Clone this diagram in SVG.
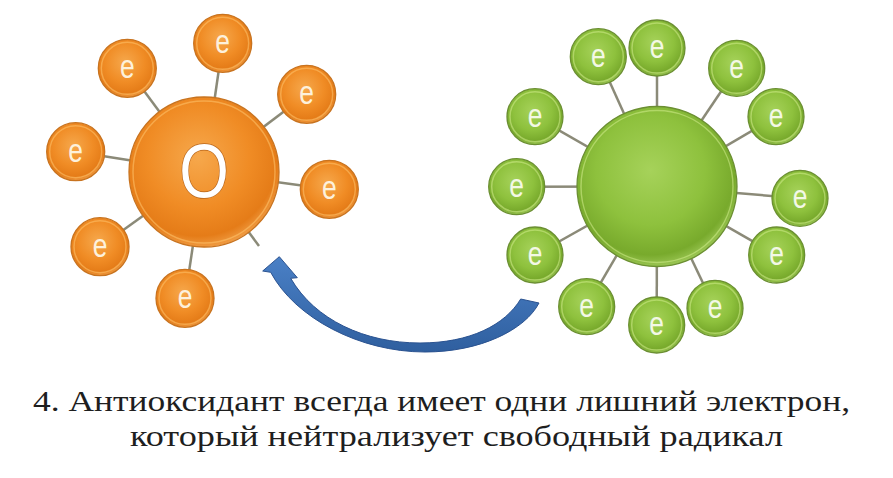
<svg xmlns="http://www.w3.org/2000/svg" width="893" height="478" viewBox="0 0 893 478">
<defs>
<radialGradient id="gOr" cx="46%" cy="40%" r="62%">
<stop offset="0" stop-color="#f6a84c"/>
<stop offset="0.55" stop-color="#f08c25"/>
<stop offset="0.85" stop-color="#e57c18"/>
<stop offset="1" stop-color="#f2a14a"/>
</radialGradient>
<radialGradient id="gGr" cx="46%" cy="40%" r="62%">
<stop offset="0" stop-color="#a6d25a"/>
<stop offset="0.55" stop-color="#8ec13d"/>
<stop offset="0.85" stop-color="#78aa2c"/>
<stop offset="1" stop-color="#a2cc5c"/>
</radialGradient>
<linearGradient id="gArrow" x1="0" y1="0" x2="0" y2="1">
<stop offset="0" stop-color="#4a80c6"/>
<stop offset="1" stop-color="#2f5f9f"/>
</linearGradient>
<style>
.link{stroke:#8b8a78;stroke-width:2.5;fill:none}
.orange{fill:url(#gOr);stroke:#c8731f;stroke-width:1.3}
.green{fill:url(#gGr);stroke:#6b8f32;stroke-width:1.3}
.ringO{fill:none;stroke:#ffc46e;stroke-opacity:0.55;stroke-width:1.5}
.ringG{fill:none;stroke:#d2ec8c;stroke-opacity:0.55;stroke-width:1.5}
.et{font-family:"Liberation Sans",Arial,sans-serif;font-size:33px;text-anchor:middle}
.etO{fill:#fdf1dc}
.etG{fill:#f3f8e6}
.big{font-family:"Liberation Sans",Arial,sans-serif;font-size:76px;text-anchor:middle;fill:#ffffff;stroke:#b8651a;stroke-width:1.5;paint-order:stroke}
.cap{font-family:"Liberation Serif","Times New Roman",serif;font-size:29px;fill:#1e1e1e}
.arrow{fill:url(#gArrow);stroke:#2a5290;stroke-width:1}
</style>
</defs>
<rect width="893" height="478" fill="#ffffff"/>

<g id="connectors">
<line class="link" x1="204" y1="172" x2="127.3" y2="68.3"/>
<line class="link" x1="204" y1="172" x2="222.7" y2="43.3"/>
<line class="link" x1="204" y1="172" x2="306.7" y2="94.3"/>
<line class="link" x1="204" y1="172" x2="75.7" y2="151.7"/>
<line class="link" x1="204" y1="172" x2="329.3" y2="189.3"/>
<line class="link" x1="204" y1="172" x2="100" y2="246.7"/>
<line class="link" x1="204" y1="172" x2="185" y2="298.3"/>
<line class="link" x1="204" y1="172" x2="259" y2="246"/>
<line class="link" x1="657" y1="186.5" x2="598.3" y2="56.7"/>
<line class="link" x1="657" y1="186.5" x2="657" y2="48"/>
<line class="link" x1="657" y1="186.5" x2="736.7" y2="68.3"/>
<line class="link" x1="657" y1="186.5" x2="776" y2="116.7"/>
<line class="link" x1="657" y1="186.5" x2="535" y2="116.7"/>
<line class="link" x1="657" y1="186.5" x2="516.7" y2="186.7"/>
<line class="link" x1="657" y1="186.5" x2="800" y2="198.3"/>
<line class="link" x1="657" y1="186.5" x2="535" y2="255"/>
<line class="link" x1="657" y1="186.5" x2="776.7" y2="255"/>
<line class="link" x1="657" y1="186.5" x2="586.7" y2="306.7"/>
<line class="link" x1="657" y1="186.5" x2="656.7" y2="325"/>
<line class="link" x1="657" y1="186.5" x2="715" y2="308.3"/>
<path id="transfer-arrow" class="arrow" d="M270.7 272.3 C295 318 360 352 425 352 C480 352 525 330 539 303 L520.7 299 C505 325 470 343 420 343 C365 343 315 320 290.7 278.3 L297.3 277.7 L279.3 256.7 L262.7 271 Z"/>
</g>

<g id="oxidant" transform="translate(204,172)">
<circle class="orange" r="75"/>
<circle class="ringO" r="71"/>
<text class="big" transform="translate(0,25) scale(0.84,1)">O</text>
</g>
<g id="eo1" transform="translate(127.3,68.3)"><circle class="orange" r="29"/><circle class="ringO" r="26"/><text class="et etO" transform="translate(0,10) scale(0.8,1)">e</text></g>
<g id="eo2" transform="translate(222.7,43.3)"><circle class="orange" r="29"/><circle class="ringO" r="26"/><text class="et etO" transform="translate(0,10) scale(0.8,1)">e</text></g>
<g id="eo3" transform="translate(306.7,94.3)"><circle class="orange" r="29"/><circle class="ringO" r="26"/><text class="et etO" transform="translate(0,10) scale(0.8,1)">e</text></g>
<g id="eo4" transform="translate(75.7,151.7)"><circle class="orange" r="29"/><circle class="ringO" r="26"/><text class="et etO" transform="translate(0,10) scale(0.8,1)">e</text></g>
<g id="eo5" transform="translate(329.3,189.3)"><circle class="orange" r="29"/><circle class="ringO" r="26"/><text class="et etO" transform="translate(0,10) scale(0.8,1)">e</text></g>
<g id="eo6" transform="translate(100,246.7)"><circle class="orange" r="29"/><circle class="ringO" r="26"/><text class="et etO" transform="translate(0,10) scale(0.8,1)">e</text></g>
<g id="eo7" transform="translate(185,298.3)"><circle class="orange" r="29"/><circle class="ringO" r="26"/><text class="et etO" transform="translate(0,10) scale(0.8,1)">e</text></g>

<g id="radical" transform="translate(657,186.5)">
<circle class="green" r="80"/>
<circle class="ringG" r="76"/>
</g>
<g id="eg1" transform="translate(598.3,56.7)"><circle class="green" r="28"/><circle class="ringG" r="25"/><text class="et etG" transform="translate(0,10) scale(0.8,1)">e</text></g>
<g id="eg2" transform="translate(657,48)"><circle class="green" r="28"/><circle class="ringG" r="25"/><text class="et etG" transform="translate(0,10) scale(0.8,1)">e</text></g>
<g id="eg3" transform="translate(736.7,68.3)"><circle class="green" r="28"/><circle class="ringG" r="25"/><text class="et etG" transform="translate(0,10) scale(0.8,1)">e</text></g>
<g id="eg4" transform="translate(776,116.7)"><circle class="green" r="28"/><circle class="ringG" r="25"/><text class="et etG" transform="translate(0,10) scale(0.8,1)">e</text></g>
<g id="eg5" transform="translate(535,116.7)"><circle class="green" r="28"/><circle class="ringG" r="25"/><text class="et etG" transform="translate(0,10) scale(0.8,1)">e</text></g>
<g id="eg6" transform="translate(516.7,186.7)"><circle class="green" r="28"/><circle class="ringG" r="25"/><text class="et etG" transform="translate(0,10) scale(0.8,1)">e</text></g>
<g id="eg7" transform="translate(800,198.3)"><circle class="green" r="28"/><circle class="ringG" r="25"/><text class="et etG" transform="translate(0,10) scale(0.8,1)">e</text></g>
<g id="eg8" transform="translate(535,255)"><circle class="green" r="28"/><circle class="ringG" r="25"/><text class="et etG" transform="translate(0,10) scale(0.8,1)">e</text></g>
<g id="eg9" transform="translate(776.7,255)"><circle class="green" r="28"/><circle class="ringG" r="25"/><text class="et etG" transform="translate(0,10) scale(0.8,1)">e</text></g>
<g id="eg10" transform="translate(586.7,306.7)"><circle class="green" r="28"/><circle class="ringG" r="25"/><text class="et etG" transform="translate(0,10) scale(0.8,1)">e</text></g>
<g id="eg11" transform="translate(656.7,325)"><circle class="green" r="28"/><circle class="ringG" r="25"/><text class="et etG" transform="translate(0,10) scale(0.8,1)">e</text></g>
<g id="eg12" transform="translate(715,308.3)"><circle class="green" r="28"/><circle class="ringG" r="25"/><text class="et etG" transform="translate(0,10) scale(0.8,1)">e</text></g>

<g id="caption">
<text class="cap" x="33" y="411" textLength="817" lengthAdjust="spacingAndGlyphs">4. Антиоксидант всегда имеет одни лишний электрон,</text>
<text class="cap" x="130" y="446" textLength="653" lengthAdjust="spacingAndGlyphs">который нейтрализует свободный радикал</text>
</g>
</svg>
